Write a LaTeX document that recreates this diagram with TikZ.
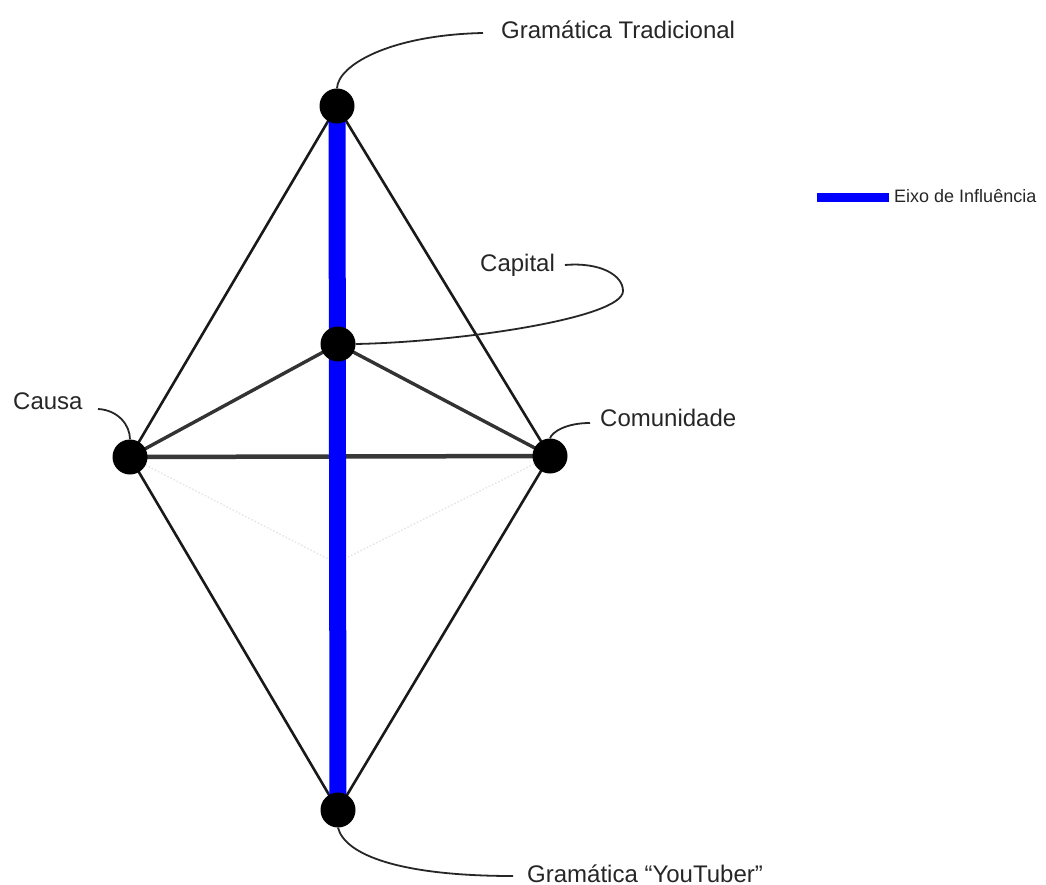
\documentclass[tikz,border=0pt]{standalone}
\usepackage{fontspec}
\setmainfont{Liberation Sans}
\pgfdeclarelayer{bg}
\pgfsetlayers{bg,main}
\begin{document}
\begin{tikzpicture}[x=1pt,y=-1pt,
  dot/.style={circle,fill=black,minimum size=35pt,inner sep=0pt},
  lbl/.style={anchor=base west,inner sep=0pt,font=\fontsize{24}{28}\selectfont,text=black!85},
  legtext/.style={anchor=base west,inner sep=0pt,font=\fontsize{18}{21}\selectfont,text=black!85},
  outeredge/.style={line width=2.6pt,black!90},
  inneredge/.style={line width=3.4pt,black!80},
  baseedge/.style={line width=4.5pt,black!78},
  axisline/.style={line width=17pt,blue},
  callout/.style={line width=1.8pt,black!85},
  hiddenedge/.style={line width=1.4pt,black!10,dash pattern=on 1.5pt off 2pt}]
\useasboundingbox (0,0) rectangle (1046,885);
% vertices
\node[dot] (top) at (337,106) {};
\node[dot] (cap) at (338,344) {};
\node[dot] (causa) at (130,457) {};
\node[dot] (com) at (550,456) {};
\node[dot] (bot) at (338,810) {};
\coordinate (back) at (336,563);
% edges
\begin{pgfonlayer}{bg}
  \draw[hiddenedge] (causa.center) -- (back) -- (com.center);
  \draw[outeredge] (top.center) -- (causa.center);
  \draw[outeredge] (top.center) -- (com.center);
  \draw[outeredge] (bot.center) -- (causa.center);
  \draw[outeredge] (bot.center) -- (com.center);
  \draw[inneredge] (cap.center) -- (causa.center);
  \draw[inneredge] (cap.center) -- (com.center);
  \draw[baseedge] (causa.center) -- (com.center);
  \draw[axisline] (top.center) -- (bot.center);
\end{pgfonlayer}
% labels
\node[lbl] (ltop) at (501,39) {Gramática Tradicional};
\node[lbl] (lcap) at (480,271) {Capital};
\node[lbl] (lcausa) at (13,409) {Causa};
\node[lbl] (lcom) at (600,426) {Comunidade};
\node[lbl] (lbot) at (527,882) {Gramática “YouTuber”};
% callout ends
\coordinate (etop) at (483,33);
\coordinate (ecap) at (565,265);
\coordinate (ecausa) at (98,409);
\coordinate (ecom) at (590,423);
\coordinate (ebot) at (513,876);
\draw[callout] (top.north) .. controls (338,65) and (390,35) .. (etop);
\draw[callout] (ecap) .. controls (600,262) and (623,275) .. (623,291)
  .. controls (623,318) and (460,342) .. (cap.east);
\draw[callout] (ecausa) .. controls (118,410) and (130,425) .. (causa.north);
\draw[callout] (ecom) .. controls (566,423) and (552,432) .. (com.north);
\draw[callout] (bot.south) .. controls (345,855) and (400,876) .. (ebot);
% legend
\node[legtext] (leg) at (894,203) {Eixo de Influência};
\coordinate (legstart) at (817,197.5);
\draw[line width=9pt,blue] (legstart) -- ([xshift=-5pt]legstart -| leg.west);
\end{tikzpicture}
\end{document}
